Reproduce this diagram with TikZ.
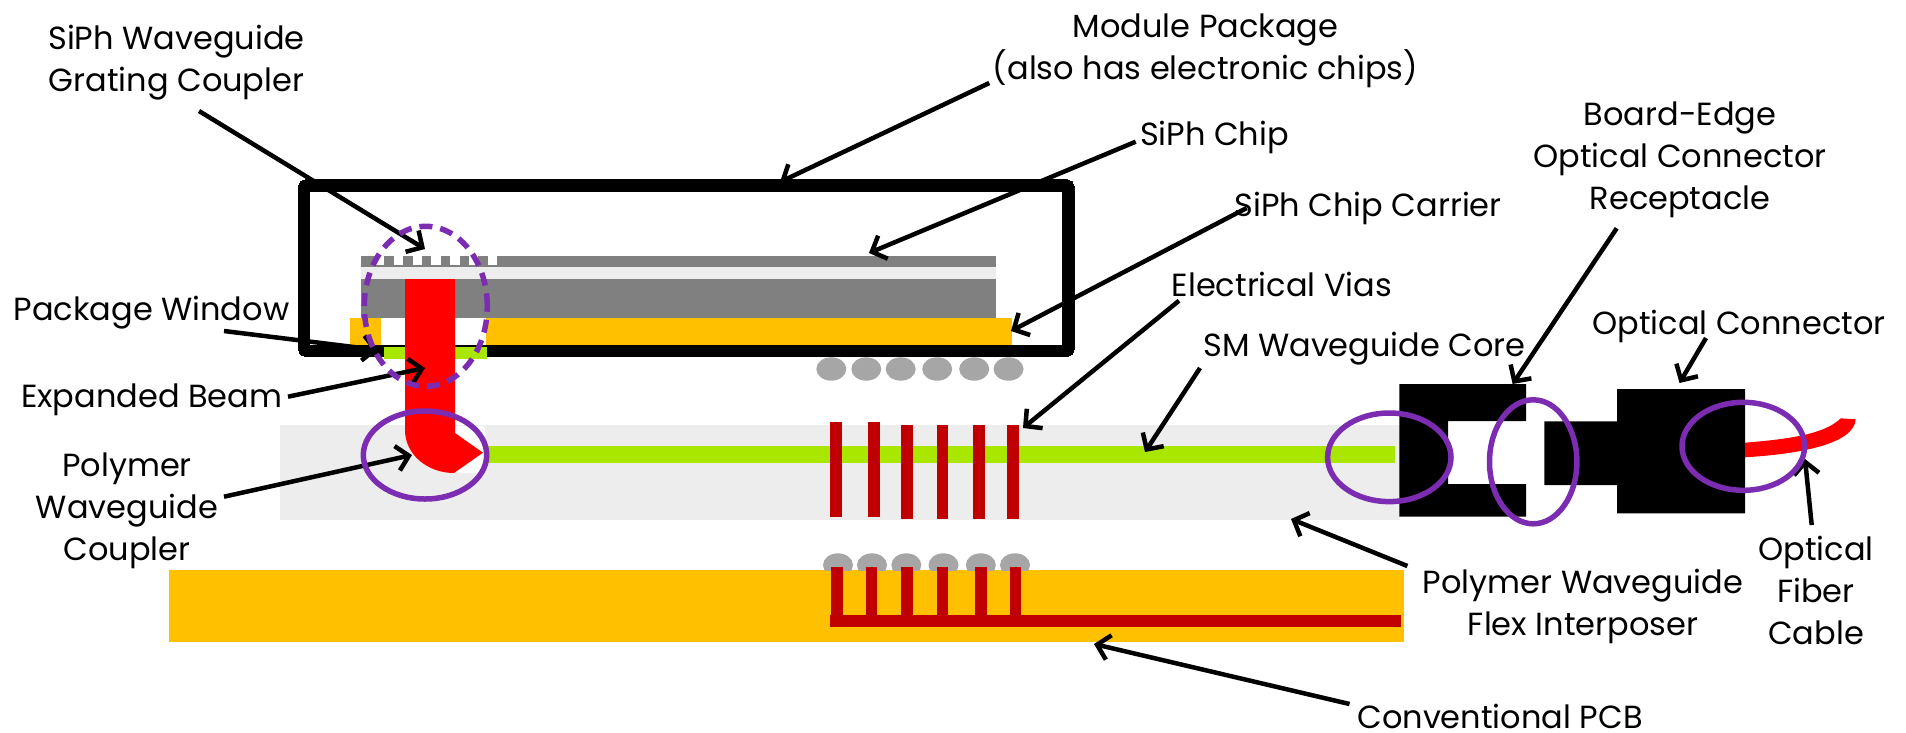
\documentclass[tikz,border=0pt]{standalone}
\usepackage{fontspec}
\setmainfont{Poppins}
\usetikzlibrary{arrows.meta,shapes.geometric}
\definecolor{orangeC}{HTML}{FFC000}
\definecolor{greenC}{HTML}{A9E600}
\definecolor{viaC}{HTML}{C00000}
\definecolor{purpC}{HTML}{7B2CB0}
\definecolor{bumpC}{HTML}{A6A6A6}
\definecolor{flexC}{HTML}{EDEDED}
\definecolor{chipC}{HTML}{808080}
\tikzset{
  x=1pt,y=-1pt,
  lbl/.style={font=\fontsize{32}{42}\selectfont,align=center,inner sep=0pt,text=black,anchor=base},
  arr/.style={line width=4.5pt,-{Straight Barb[length=12pt,width=25pt,line width=4.5pt]}},
  ring/.style={draw=purpC,line width=5.5pt,ellipse,inner sep=0pt},
  bump/.style={fill=bumpC},
}
\newcommand{\bx}[5]{\fill[#1] (#2,#3) rectangle (#4,#5);}
\begin{document}
\begin{tikzpicture}
\useasboundingbox (0,0) rectangle (1906,732);
% flex and waveguide
\bx{flexC}{280}{425}{1400}{520}
\bx{greenC}{485}{446}{1395}{462.7}
% pcb
\bx{orangeC}{169}{570}{1404}{641.7}
% lower bumps (clipped at PCB top)
\begin{scope}
\clip (800,540) rectangle (1060,570);
\foreach \c in {838,872,906.3,943.5,980.8,1015} \fill[bump] (\c,565) ellipse [x radius=15, y radius=11.7];
\end{scope}
% upper bumps
\foreach \c in {831.3,866.3,900.7,937.2,974.2,1008.5} \fill[bump] (\c,369) ellipse [x radius=15, y radius=11.7];
% vias
\foreach \a/\b in {830.3/842.3,868.3/880} \bx{viaC}{\a}{422.3}{\b}{516.7}
\foreach \a/\b in {901/913,936.7/948.3,973/985,1007.3/1019.3} \bx{viaC}{\a}{424.7}{\b}{519.3}
% pcb traces
\foreach \a/\b in {831.3/843,865.7/877.3,901/913,936.7/948.3,975.3/987,1009.7/1021.3} \bx{viaC}{\a}{566.7}{\b}{616}
\bx{viaC}{830}{615}{1400.5}{627}
% chip stack
\bx{flexC}{361}{266}{996}{280}
\bx{chipC}{361}{256}{996}{267}
\foreach \a in {374.6,393.5,412.5,431.3,450.3,469,488} \bx{white}{\a}{256}{\a+9.4}{264.5}
\bx{chipC}{361}{279}{996}{318}
\bx{orangeC}{350}{318}{380.7}{345}
\bx{orangeC}{486}{318}{1011.5}{345}
% package
\node[draw=black,line width=11.5pt,rounded corners=3pt,minimum width=764.5pt,minimum height=165.5pt,inner sep=0pt,outer sep=0pt,anchor=center] (pkg) at (686.25,268.25) {};
\bx{greenC}{384}{346.7}{487}{359}
% beam
\fill[white,rounded corners=3pt] (455,426) rectangle (485,473);
\fill[red] (405,279) -- (405,430) .. controls (405,455) and (428,473) .. (454,473) -- (483,452.7) -- (455,433) -- (455,279) -- cycle;
% connector
\fill[black] (1399.3,384) -- (1526,384) -- (1526,421) -- (1448,421) -- (1448,484) -- (1526,484) -- (1526,516.7) -- (1399.3,516.7) -- cycle;
\fill[black] (1544.3,421.3) -- (1617,421.3) -- (1617,389) -- (1745,389) -- (1745,513.3) -- (1617,513.3) -- (1617,485) -- (1544.3,485) -- cycle;
\fill[red] (1745,457.3) .. controls (1800,454) and (1854,444) .. (1855.7,419.3) -- (1840.7,418.3) .. controls (1825,434) and (1790,439) .. (1745,442.7) -- cycle;
% labels
\node[lbl] (lGrating) at (176.5,91.7) {SiPh Waveguide\\Grating Coupler};
\node[lbl] (lModule) at (1205.5,79) {Module Package\\(also has electronic chips)};
\node[lbl] (lChip) at (1214.5,145) {SiPh Chip};
\node[lbl] (lCarrier) at (1368,216.7) {SiPh Chip Carrier};
\node[lbl] (lBoard) at (1680,209.3) {Board-Edge\\Optical Connector\\Receptacle};
\node[lbl] (lVias) at (1282,296.7) {Electrical Vias};
\node[lbl] (lCore) at (1364.5,356.7) {SM Waveguide Core};
\node[lbl] (lOptConn) at (1739,334.3) {Optical Connector};
\node[lbl] (lWindow) at (151.5,320) {Package Window};
\node[lbl] (lBeam) at (151.7,407.3) {Expanded Beam};
\node[lbl] (lCoupler) at (127,560.7) {Polymer\\Waveguide\\Coupler};
\node[lbl] (lFlex) at (1583,635) {Polymer Waveguide\\Flex Interposer};
\node[lbl] (lFiber) at (1816,644) {Optical\\Fiber\\Cable};
\node[lbl] (lPCB) at (1500,728) {Conventional PCB};
% arrow ends
\coordinate (tGrating) at (199,111); \coordinate (hGrating) at (425,249);
\coordinate (tModule) at (989.3,83); \coordinate (hModule) at (780,182);
\coordinate (tChip) at (1135.7,141.7); \coordinate (hChip) at (869,253);
\coordinate (tCarrier) at (1246.7,208); \coordinate (hCarrier) at (1011,331);
\coordinate (tWindow) at (224,331); \coordinate (hWindow) at (378,350);
\coordinate (tBeam) at (288,396.7); \coordinate (hBeam) at (425,368);
\coordinate (tCoupler) at (224,496.7); \coordinate (hCoupler) at (412,455);
\coordinate (tVias) at (1179,300.7); \coordinate (hVias) at (1023,428);
\coordinate (tCore) at (1200,368); \coordinate (hCore) at (1145,452);
\coordinate (tBoard) at (1616.7,228.3); \coordinate (hBoard) at (1512.6,384);
\coordinate (tOptConn) at (1706,338); \coordinate (hOptConn) at (1679.5,383);
\coordinate (tFiber) at (1811.7,525); \coordinate (hFiber) at (1805,459);
\coordinate (tFlex) at (1407.4,566); \coordinate (hFlex) at (1291,519);
\coordinate (tPCB) at (1349.5,704); \coordinate (hPCB) at (1094,644);
\foreach \n in {Grating,Module,Chip,Carrier,Window,Beam,Coupler,Vias,Core,Board,OptConn,Fiber,Flex,PCB}
  \draw[arr] (t\n) -- (h\n);
% rings
\node[ring,dash pattern=on 13pt off 8pt,minimum width=123pt,minimum height=160pt] (rGrating) at (425.8,306.3) {};
\node[ring,minimum width=123.4pt,minimum height=88pt] (rCoupler) at (425,455) {};
\node[ring,minimum width=123.4pt,minimum height=88.6pt] (rFlexEnd) at (1389.3,457.3) {};
\node[ring,minimum width=87.4pt,minimum height=124pt] (rRecept) at (1533.2,461.8) {};
\node[ring,minimum width=122.6pt,minimum height=88pt] (rFiber) at (1743.3,446.3) {};
\end{tikzpicture}
\end{document}
